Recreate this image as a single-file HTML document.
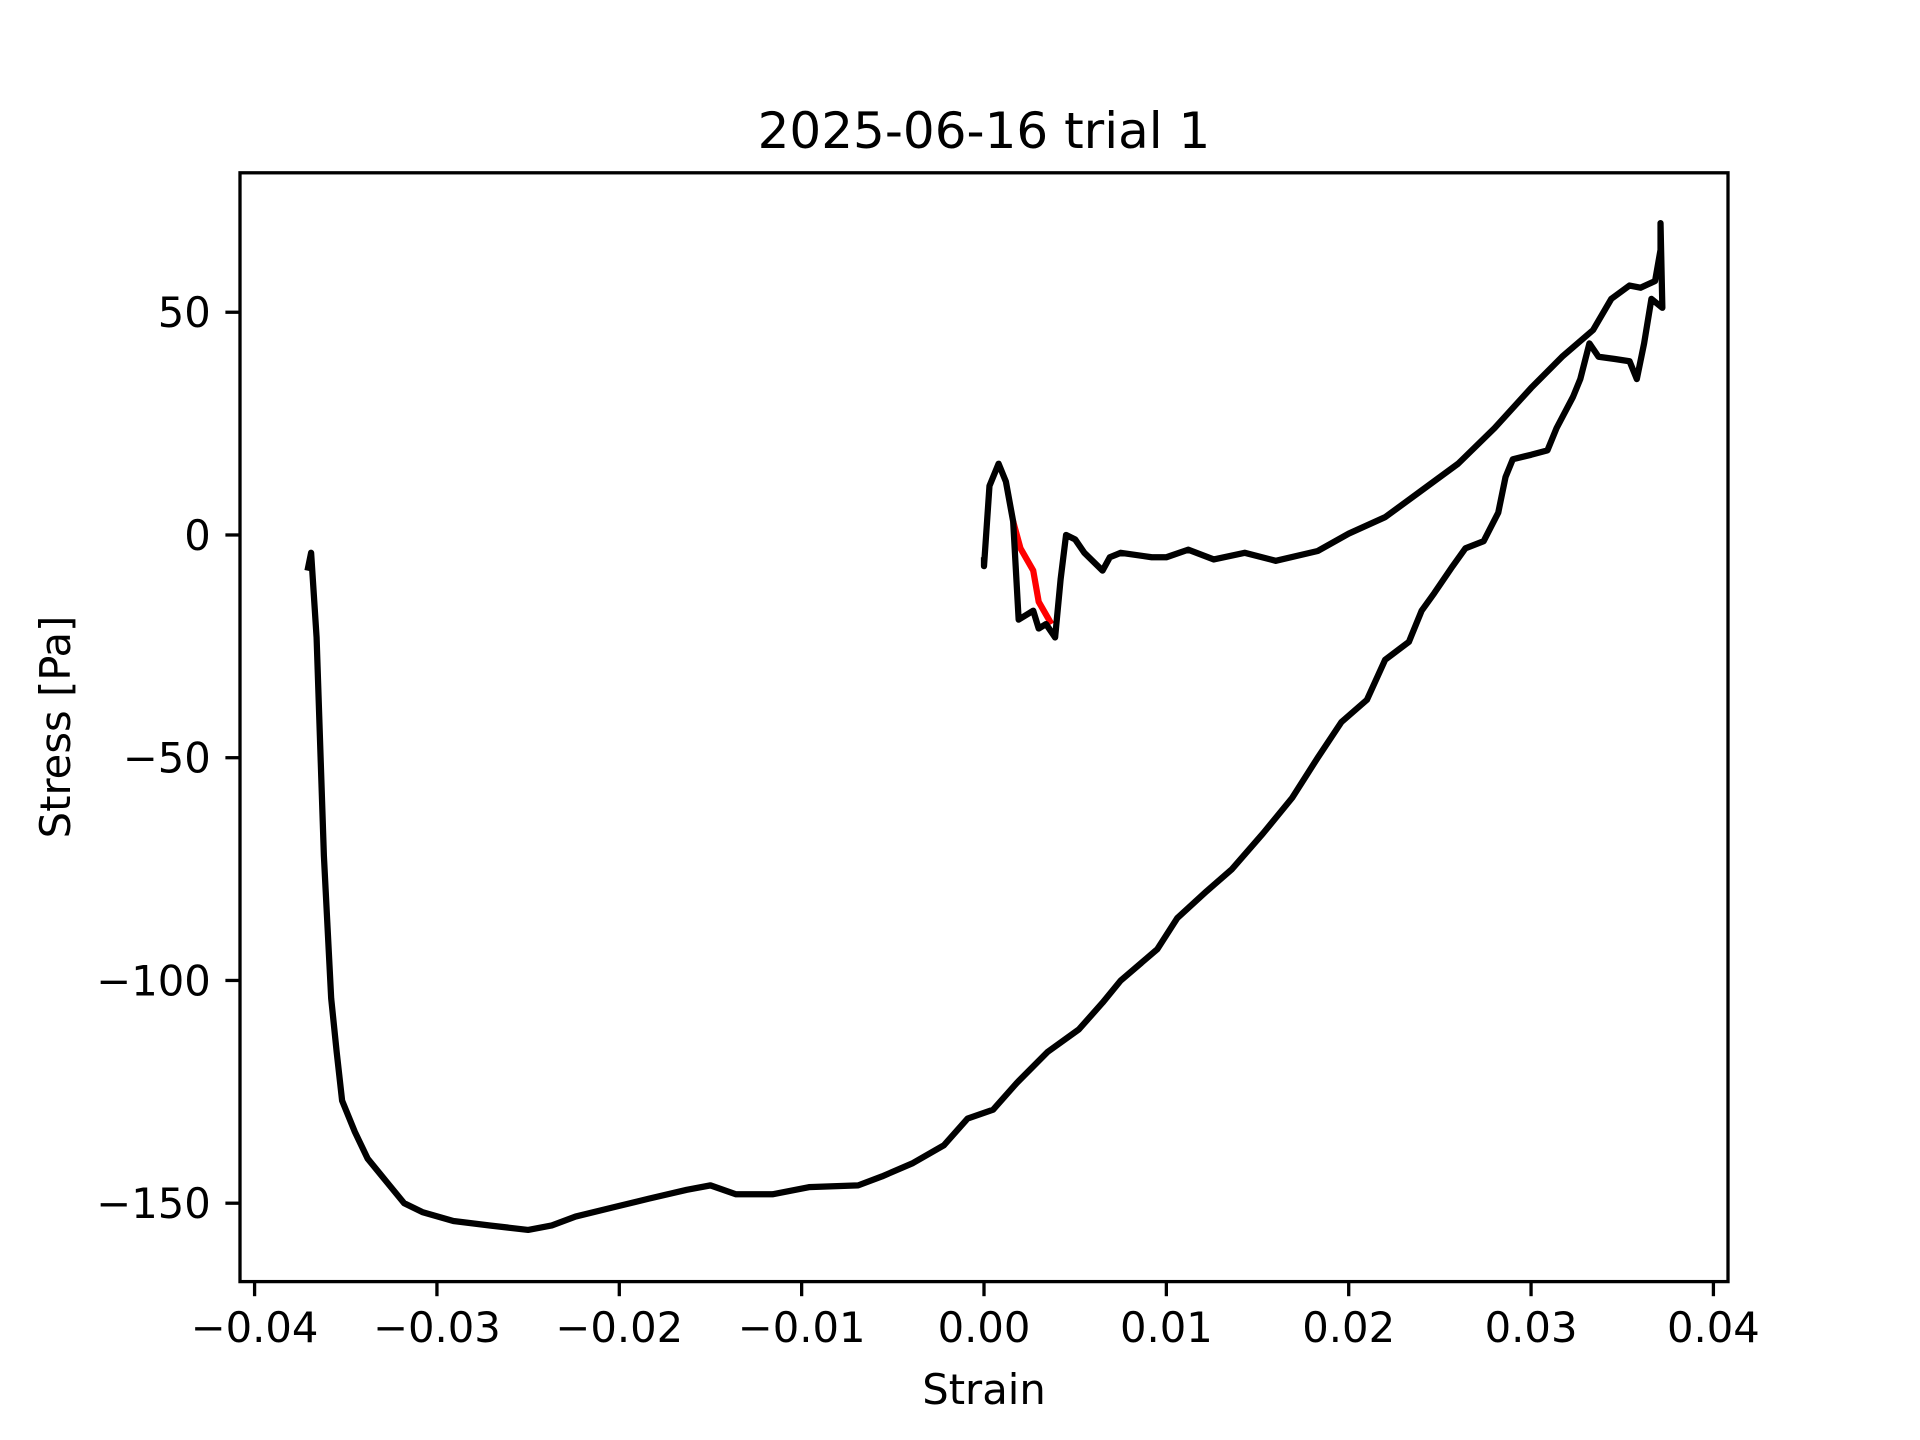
<!DOCTYPE html>
<html><head><meta charset="utf-8"><style>
html,body{margin:0;padding:0;background:#fff;}
svg{display:block;font-family:"DejaVu Sans","Liberation Sans",sans-serif;}
</style></head><body>
<svg id="chart" width="1920" height="1440" viewBox="0 0 1920 1440">
<rect width="1920" height="1440" fill="#fff"/>
<text x="984" y="148" font-size="50" text-anchor="middle">2025-06-16 trial 1</text>
<g id="plot"></g>
<g id="axes"></g>
<text x="984" y="1404" font-size="41.7" text-anchor="middle">Strain</text>
<text transform="translate(70,727) rotate(-90)" font-size="41.7" text-anchor="middle">Stress [Pa]</text>
</svg>
<script>
const xTicks=[-0.04,-0.03,-0.02,-0.01,0,0.01,0.02,0.03,0.04];
const xTickLabels=["−0.04","−0.03","−0.02","−0.01","0.00","0.01","0.02","0.03","0.04"];
const yTicks=[50,0,-50,-100,-150];
const yTickLabels=["50","0","−50","−100","−150"];
const strainBlack=[0,0,0.0003,0.0008,0.0012,0.0016,0.0019,0.0027,0.003,0.0034,0.0039,0.0042,0.0045,0.005,0.0055,0.0065,0.0069,0.0075,0.0092,0.0100,0.0112,0.0126,0.0143,0.016,0.0183,0.02,0.022,0.024,0.026,0.028,0.030,0.0317,0.0334,0.0344,0.0354,0.036,0.0368,0.0371,0.0371,0.0372,0.0366,0.0362,0.0358,0.0354,0.0346,0.0337,0.0332,0.0327,0.0323,0.0314,0.0309,0.030,0.029,0.0286,0.0282,0.0274,0.0264,0.0257,0.0247,0.024,0.0233,0.022,0.021,0.0196,0.0183,0.0169,0.0153,0.0136,0.0122,0.0106,0.0095,0.0075,0.0065,0.0052,0.0035,0.0018,0.0005,-0.0009,-0.0022,-0.0039,-0.0056,-0.0069,-0.0096,-0.0116,-0.0136,-0.015,-0.0163,-0.0184,-0.0204,-0.0224,-0.0237,-0.025,-0.0271,-0.0291,-0.0308,-0.0318,-0.0328,-0.0338,-0.0345,-0.0352,-0.0355,-0.0358,-0.0362,-0.0366,-0.0369,-0.0371];
const stressBlack=[-5,-7,11,16,12,3,-19,-17,-21,-20,-23,-10,0,-1,-4,-8,-5,-4,-5,-5,-3.3,-5.5,-4,-5.8,-3.6,0.3,4,10,16,24,33,40,46,53,56,55.5,57,64,70,51,53,43,35,39,39.5,40,43,35,31,24,19,18,17,13,5,-1.4,-3,-7,-13,-17,-24,-28,-37,-42,-50,-59,-67,-75,-80,-86,-93,-100,-105,-111,-116,-123,-129,-131,-137,-141,-144,-146,-146.4,-148,-148,-146,-147,-149,-151,-153,-155,-156,-155,-154,-152,-150,-145,-140,-134,-127,-116,-104,-72,-23,-4,-8];
const strainRed=[0.0016,0.002,0.0027,0.003,0.0037];
const stressRed=[3,-3,-8,-15,-20];
const L=240,R=1728,T=172.8,B=1281.6,XMIN=-0.0408,XMAX=0.0408,YMIN=-167.6,YMAX=81.3;
const sx=v=>L+(v-XMIN)/(XMAX-XMIN)*(R-L);
const sy=v=>B-(v-YMIN)/(YMAX-YMIN)*(B-T);
const NS="http://www.w3.org/2000/svg";
const plot=document.getElementById('plot'),axes=document.getElementById('axes');
function line(xs,ys,color,name){
  const p=document.createElementNS(NS,'polyline');
  p.setAttribute('points',xs.map((x,i)=>sx(x)+','+sy(ys[i])).join(' '));
  p.setAttribute('fill','none');p.setAttribute('stroke',color);p.setAttribute('stroke-width','6.25');
  p.setAttribute('stroke-linejoin','round');
  
  
  plot.appendChild(p);
}
line(strainRed,stressRed,'#ff0000','series-red');
line(strainBlack,stressBlack,'#000000','series-black');
const frame=document.createElementNS(NS,'rect');
frame.setAttribute('x',L);frame.setAttribute('y',T);frame.setAttribute('width',R-L);frame.setAttribute('height',B-T);
frame.setAttribute('fill','none');frame.setAttribute('stroke','#000');frame.setAttribute('stroke-width','3.3');


axes.appendChild(frame);
xTicks.forEach((v,i)=>{
  const x=sx(v);
  const t=document.createElementNS(NS,'line');
  t.setAttribute('x1',x);t.setAttribute('x2',x);t.setAttribute('y1',B);t.setAttribute('y2',B+14.6);
  t.setAttribute('stroke','#000');t.setAttribute('stroke-width','3.3');
  
  
  axes.appendChild(t);
  const s=document.createElementNS(NS,'text');
  s.setAttribute('x',x);s.setAttribute('y',B+14.6+14.6+31);s.setAttribute('font-size','41.7');s.setAttribute('text-anchor','middle');
  s.textContent=xTickLabels[i];
  
  
  axes.appendChild(s);
});
yTicks.forEach((v,i)=>{
  const y=sy(v);
  const t=document.createElementNS(NS,'line');
  t.setAttribute('x1',L-14.6);t.setAttribute('x2',L);t.setAttribute('y1',y);t.setAttribute('y2',y);
  t.setAttribute('stroke','#000');t.setAttribute('stroke-width','3.3');
  
  
  axes.appendChild(t);
  const s=document.createElementNS(NS,'text');
  s.setAttribute('x',L-14.6-14.6);s.setAttribute('y',y+15);s.setAttribute('font-size','41.7');s.setAttribute('text-anchor','end');
  s.textContent=yTickLabels[i];
  
  
  axes.appendChild(s);
});
</script>
</body></html>
